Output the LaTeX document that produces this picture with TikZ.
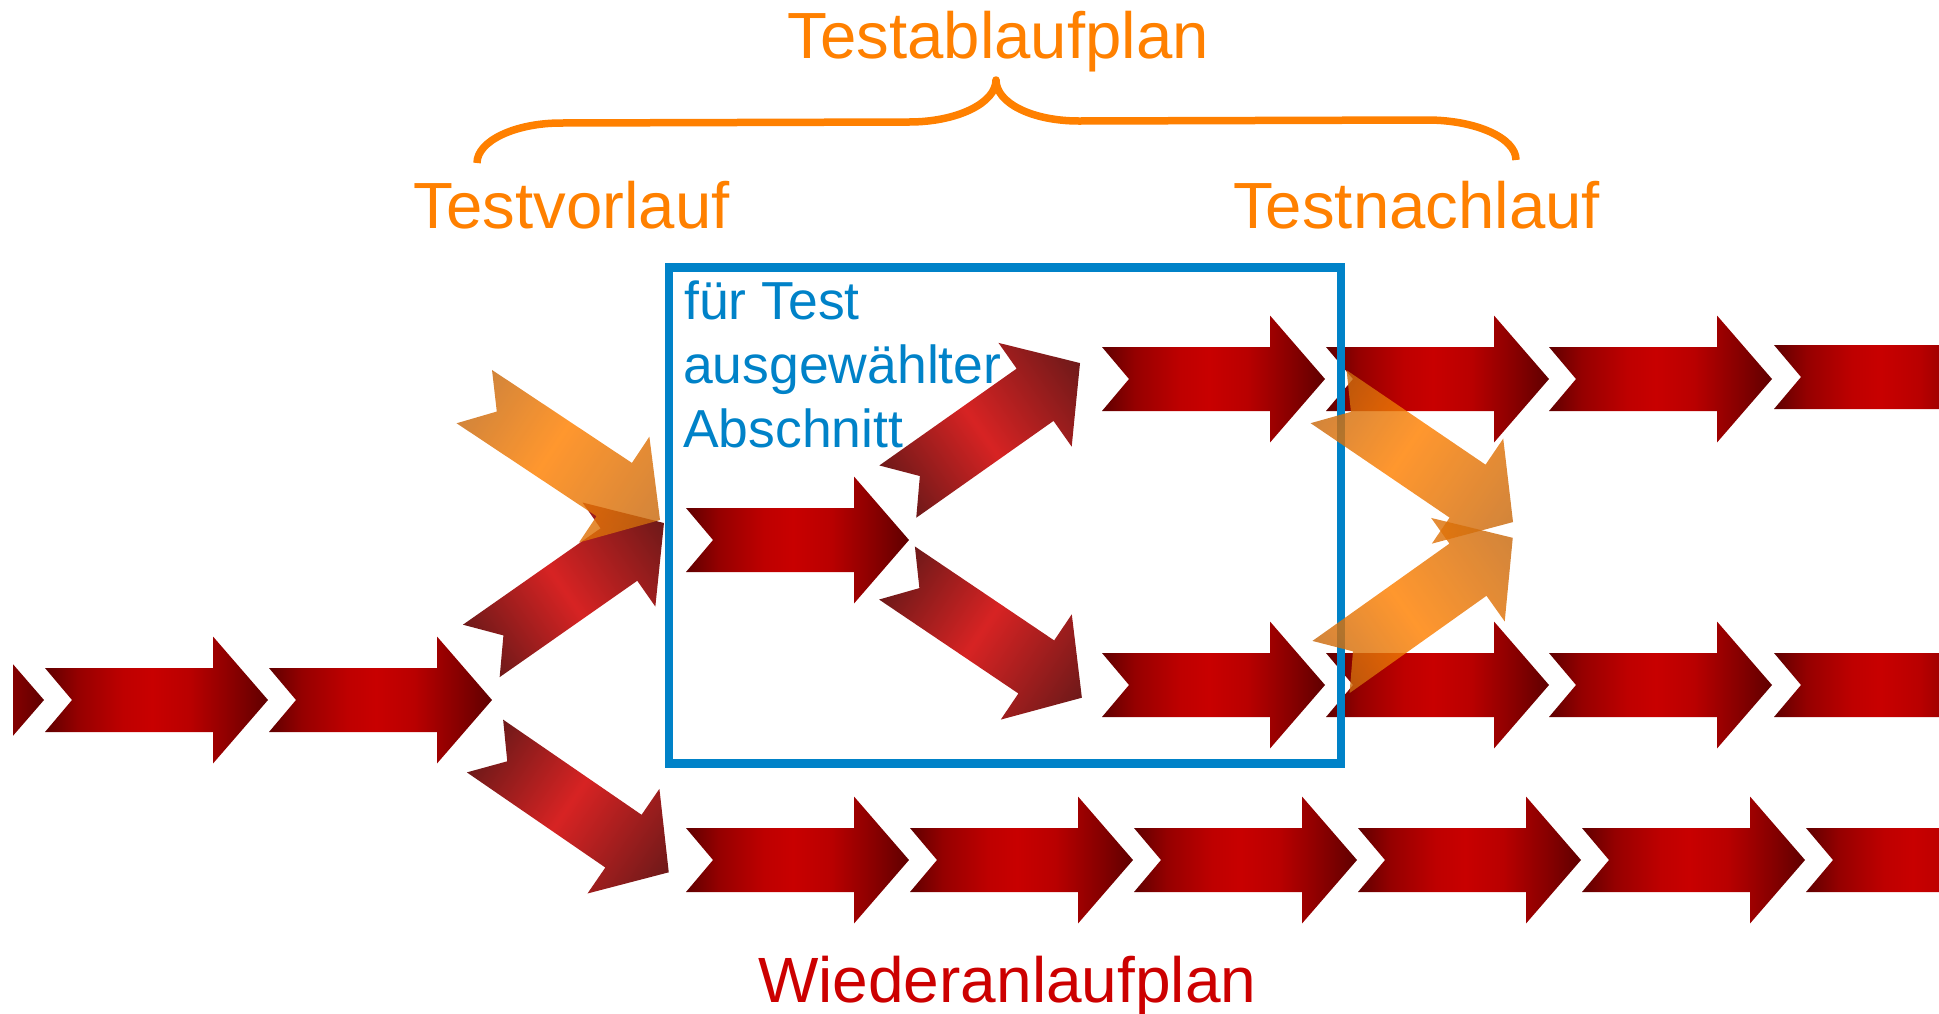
\documentclass[tikz,border=0pt]{standalone}
\usepackage{fontspec}
\setmainfont{Liberation Sans}
\definecolor{orng}{RGB}{255,128,0}
\definecolor{bluebox}{RGB}{0,130,200}
\definecolor{redtxt}{RGB}{204,0,0}
\definecolor{hA}{RGB}{95,0,0}
\definecolor{hB}{RGB}{150,0,0}
\definecolor{hC}{RGB}{190,0,0}
\definecolor{hD}{RGB}{200,0,0}
\definecolor{hE}{RGB}{185,0,0}
\definecolor{hF}{RGB}{135,0,0}
\definecolor{ddark}{RGB}{110,25,25}
\definecolor{dbright}{RGB}{215,35,35}
\definecolor{odark}{RGB}{200,105,15}
\definecolor{obright}{RGB}{255,128,0}
\pgfdeclarehorizontalshading{hshade}{100bp}{color(0bp)=(hA); color(25bp)=(hA); color(32.5bp)=(hB); color(42.5bp)=(hC); color(49bp)=(hD); color(57.5bp)=(hE); color(67.5bp)=(hF); color(75bp)=(hA); color(100bp)=(hA)}
\pgfdeclarehorizontalshading{dshade}{100bp}{color(0bp)=(ddark); color(25bp)=(ddark); color(48bp)=(dbright); color(75bp)=(ddark); color(100bp)=(ddark)}
\pgfdeclarehorizontalshading{oshade}{100bp}{color(0bp)=(odark); color(25bp)=(odark); color(46bp)=(obright); color(75bp)=(odark); color(100bp)=(odark)}
\tikzset{
  harrow/.pic={\shade[shading=hshade] (0,-32) -- (168,-32) -- (168,-63.5) -- (223,0) -- (168,63.5) -- (168,32) -- (0,32) -- (27,0) -- cycle;},
  darrow/.pic={\shade[shading=dshade] (0,-32) -- (168,-32) -- (168,-63.5) -- (223,0) -- (168,63.5) -- (168,32) -- (0,32) -- (27,0) -- cycle;},
  oarrow/.pic={\shade[shading=oshade, opacity=0.82] (0,-32) -- (168,-32) -- (168,-63.5) -- (223,0) -- (168,63.5) -- (168,32) -- (0,32) -- (27,0) -- cycle;},
  ttl/.style={anchor=base west, inner sep=0pt, font=\fontsize{65.3}{65}\selectfont},
  bl/.style={anchor=base west, inner sep=0pt, text=bluebox, font=\fontsize{53.5}{60}\selectfont},
}
\begin{document}
\begin{tikzpicture}[x=1pt,y=-1pt]
\useasboundingbox (0,0) rectangle (1939,1013);
\begin{scope}
\clip (0,0) rectangle (1939,1013);
% small cut piece at the left
\begin{scope}
\clip (13,0) rectangle (300,1013);
\pic at (-179,700) {harrow};
\end{scope}
% row y=700
\pic at (45,700) {harrow};
\pic at (269,700) {harrow};
% middle arrow in box
\pic at (686,540) {harrow};
% top row
\pic at (1102,379) {harrow};
\pic at (1326,379) {harrow};
\pic at (1549,379) {harrow};
\pic at (1774,377) {harrow};
% lower row in box
\pic at (1102,685) {harrow};
\pic at (1326,685) {harrow};
\pic at (1549,685) {harrow};
\pic at (1774,685) {harrow};
% bottom row
\pic at (686,860) {harrow};
\pic at (910,860) {harrow};
\pic at (1134,860) {harrow};
\pic at (1358,860) {harrow};
\pic at (1582,860) {harrow};
\pic at (1806,860) {harrow};
% red diagonal arrows
\begin{scope}[transform canvas={shift={(481.3,650.9)},rotate=35}]\pic {darrow};\end{scope}
\begin{scope}[transform canvas={shift={(485,746)},rotate=-34.5}]\pic {darrow};\end{scope}
\begin{scope}[transform canvas={shift={(897.8,491.6)},rotate=35.2}]\pic {darrow};\end{scope}
\begin{scope}[transform canvas={shift={(897,573)},rotate=-34}]\pic {darrow};\end{scope}
% blue box
\node[draw=bluebox, line width=8.5pt, minimum width=672pt, minimum height=496pt, inner sep=0pt, outer sep=0pt, anchor=north west] (box) at (669,267.5) {};
% orange arrows
\begin{scope}[transform canvas={shift={(474.3,396.6)},rotate=-33.6}]\pic {oarrow};\end{scope}
\begin{scope}[transform canvas={shift={(1328.6,396.7)},rotate=-34.2}]\pic {oarrow};\end{scope}
\begin{scope}[transform canvas={shift={(1331,667)},rotate=35.4}]\pic {oarrow};\end{scope}
% brace
\draw[orng, line width=7.5pt, line join=round] (477,163) .. controls (477,141) and (515,123) .. (561,123) -- (909,122) .. controls (957,122) and (996,103) .. (996,80) .. controls (996,103) and (1032,121) .. (1079,121) -- (1427,120) .. controls (1476,120) and (1516,138) .. (1516,160);
% texts
\node[ttl, text=orng] (plan) at (787.5,58) {Testablaufplan};
\node[ttl, text=orng] (vor) at (413.5,228) {Testvorlauf};
\node[ttl, text=orng] (nach) at (1233,228) {Testnachlauf};
\node[ttl, text=redtxt, font=\fontsize{64}{64}\selectfont] (wieder) at (758,1002) {Wiederanlaufplan};
\node[bl] (sel1) at (684,319) {für Test};
\node[bl] (sel2) at (683,383) {ausgewählter};
\node[bl] (sel3) at (683,447) {Abschnitt};
\end{scope}
\end{tikzpicture}
\end{document}
